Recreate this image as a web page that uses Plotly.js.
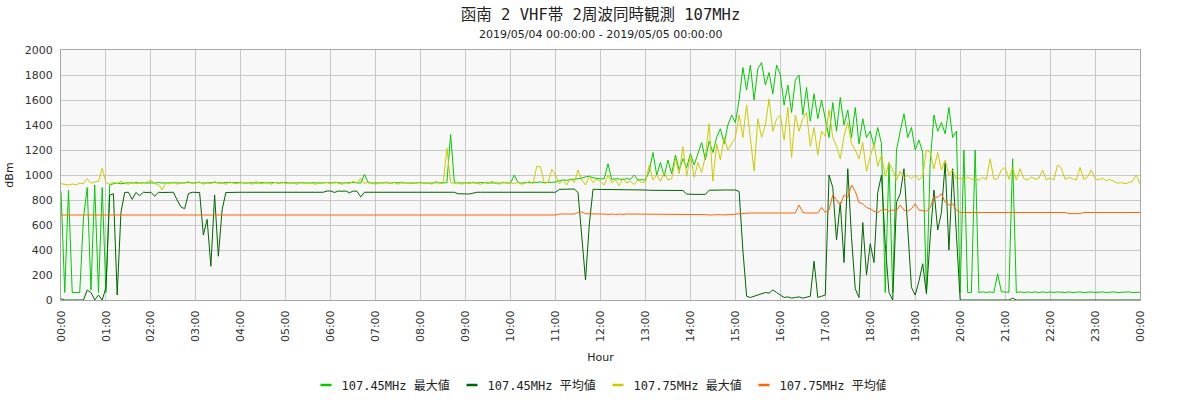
<!DOCTYPE html>
<html>
<head>
<meta charset="utf-8">
<script src="https://cdn.plot.ly/plotly-3.0.1.min.js"></script>
<style>html,body{margin:0;padding:0;background:#fff;}#chart{width:1200px;height:400px;}</style>
</head>
<body>
<div id="chart"></div>
<script>
// ---- Data (5-minute samples, 2019/05/04 00:00 -> 2019/05/05 00:00) ----
const chartTitle = "函南 2 VHF帯 2周波同時観測 107MHz";
const chartSubtitle = "2019/05/04 00:00:00 - 2019/05/05 00:00:00";
const seriesNames = ["107.45MHz 最大値", "107.45MHz 平均値", "107.75MHz 最大値", "107.75MHz 平均値"];
const startTime = "2019-05-04 00:00";
const stepMinutes = 5;

const max10745 = [
 870,60,880,60,60,60,660,900,80,920,60,900,
 60,920,930,935,930,935,938,935,940,935,938,935,
 938,935,940,936,938,935,940,938,935,938,940,936,
 938,940,935,938,936,940,938,935,940,938,936,940,
 938,936,940,938,935,938,940,936,938,940,935,938,
 940,936,938,935,940,938,936,940,938,935,938,940,
 936,938,940,935,938,936,940,938,935,1005,938,936,
 938,940,936,938,935,940,938,936,940,938,935,938,
 936,940,938,935,938,936,940,938,1325,940,936,938,
 940,936,938,935,940,938,936,940,938,935,938,940,
 936,1000,938,935,940,938,936,940,945,938,942,940,
 945,955,960,958,962,965,970,975,985,990,978,970,
 968,972,1090,965,970,968,962,972,965,1000,960,962,
 960,1030,1180,1000,1100,990,1120,1010,1160,1040,1130,1060,
 1170,1080,1170,1260,1120,1270,1180,1300,1370,1250,1400,1480,
 1420,1600,1860,1680,1880,1600,1850,1900,1720,1820,1650,1880,
 1800,1560,1720,1500,1760,1800,1480,1700,1430,1650,1450,1600,
 1450,1300,1580,1350,1620,1400,1520,1300,1540,1250,1450,1300,
 1350,1230,1380,1250,60,1100,60,1200,1350,1490,1300,1380,
 1200,1280,1180,60,1100,1480,1350,1420,1330,1540,1300,1350,
 60,1200,60,60,1200,60,65,60,65,60,210,65,
 65,60,1130,60,65,60,65,60,65,60,65,60,
 65,60,65,62,60,65,60,62,65,60,62,65,
 60,62,65,60,62,65,60,62,60,65,60,62,
 62
];

const avg10745 = [
 10,0,0,0,0,0,0,80,60,0,40,0,
 100,840,850,40,700,860,862,805,860,835,862,860,
 862,830,862,860,862,860,862,800,745,730,850,862,
 862,860,520,645,270,840,350,720,860,862,860,862,
 862,862,862,862,862,862,862,862,862,862,862,862,
 862,862,862,862,862,862,862,862,862,862,862,872,
 872,860,872,870,872,858,872,870,825,862,862,862,
 862,862,862,862,862,862,862,862,862,862,862,862,
 862,862,862,862,862,862,862,862,862,862,850,848,
 848,848,855,862,862,862,862,862,862,862,862,862,
 862,862,862,862,862,862,862,862,862,862,862,862,
 862,885,885,885,888,888,860,540,160,600,885,885,
 885,885,885,885,885,885,885,885,885,885,885,885,
 880,878,878,878,876,876,876,876,876,876,876,848,
 845,845,845,845,845,878,880,880,880,880,880,880,
 880,868,400,30,20,30,40,50,60,55,80,60,
 40,20,25,15,20,25,15,25,30,310,20,30,
 40,1000,900,480,780,300,1050,500,90,20,620,200,
 450,300,860,1000,450,60,0,780,850,1050,550,100,
 40,150,290,50,500,880,560,700,1100,400,1050,500,
 0,0,0,0,0,0,0,0,0,0,0,0,
 0,0,15,0,0,0,0,0,0,0,0,0,
 0,0,0,0,0,0,0,0,0,0,0,0,
 0,0,0,0,0,0,0,0,0,0,0,0,
 0
];

const max10775 = [
 930,925,920,928,922,935,930,970,935,945,950,1055,
 940,925,945,930,950,935,925,945,930,940,935,945,
 960,930,925,880,940,930,945,925,940,935,950,930,
 935,945,925,940,930,950,930,940,925,945,935,930,
 945,930,940,925,950,935,930,945,925,940,935,945,
 930,940,935,925,945,930,940,935,925,945,935,940,
 930,945,935,925,940,930,950,935,975,930,945,935,
 925,940,935,945,930,940,925,945,935,930,940,935,
 945,930,940,925,950,935,930,1215,940,930,945,925,
 940,930,945,935,925,940,930,950,935,925,945,935,
 940,930,945,925,935,950,930,1070,1065,935,940,1045,
 1000,930,960,920,975,940,1040,960,920,990,940,965,
 950,920,1000,940,960,915,975,935,950,925,960,940,
 945,1080,960,1000,950,1020,960,970,1130,1010,1225,990,
 1160,980,1100,1020,1150,1410,950,1250,1120,1300,1200,1250,
 1300,1480,1300,1560,1300,1030,1450,1300,1400,1610,1350,1450,
 1480,1280,1540,1140,1480,1350,1450,1500,1230,1380,1160,1350,
 1310,1520,1300,1230,1130,1310,1420,1250,1200,1130,1260,1030,
 1150,1250,1070,1160,990,1100,1040,960,1030,980,1000,970,
 1000,960,990,1200,1180,1050,1180,1040,1120,1000,1040,960,
 975,960,985,965,970,960,980,965,1130,965,970,1040,
 1060,965,1060,960,1050,970,960,985,965,975,1040,960,
 975,960,1080,1055,965,980,970,960,1060,965,985,1040,
 970,960,975,955,965,950,935,940,930,940,950,1000,
 930
];

const avg10775 = [
 680,680,680,680,680,680,680,680,680,680,680,680,
 680,680,680,680,680,680,680,680,680,680,680,680,
 680,680,680,680,680,680,680,680,680,680,680,680,
 680,680,680,680,680,680,680,680,680,680,680,680,
 680,680,680,680,680,680,680,680,680,680,680,680,
 680,680,680,680,680,680,680,680,680,680,680,680,
 680,680,680,680,680,680,680,680,680,680,680,680,
 680,680,680,680,680,680,680,680,680,680,680,680,
 680,680,680,680,680,680,680,680,680,680,680,680,
 680,680,680,680,680,680,680,680,680,680,680,680,
 680,680,680,680,680,680,680,680,680,680,680,680,
 680,688,688,688,688,688,700,705,690,688,688,688,
 688,688,684,688,684,688,684,688,688,688,688,688,
 683,683,683,683,683,683,683,683,683,683,683,683,
 683,683,683,683,683,680,683,680,683,680,683,683,
 685,688,696,696,696,696,696,696,696,696,696,696,
 696,696,696,696,696,760,700,696,696,696,696,740,
 700,720,840,800,760,840,820,920,870,780,770,740,
 730,710,700,720,725,710,720,715,760,720,710,730,
 770,720,715,710,740,830,820,850,780,760,770,720,
 700,700,700,700,700,700,700,700,700,700,700,700,
 700,700,700,700,700,700,700,700,700,700,700,700,
 700,700,700,700,700,691,691,691,691,700,700,700,
 700,700,700,700,700,700,700,700,700,700,700,700,
 700
];

const seriesColors = ["#00cc00", "#006600", "#cccc00", "#ff6600"];

// ---- Time stamps for the 5-minute sampling grid ----
const baseMs = Date.parse(startTime.replace(" ", "T") + ":00Z");
const times = max10745.map((_, i) => baseMs + i * stepMinutes * 60000);

const allSeries = [max10745, avg10745, max10775, avg10775];
const traces = allSeries.map((vals, k) => ({
  type: "scatter",
  mode: "lines",
  name: seriesNames[k],
  x: times,
  y: vals,
  line: {color: seriesColors[k], width: 1},
  hoverinfo: "skip"
}));

const tickFont = {family: "DejaVu Sans, sans-serif", size: 11, color: "#333"};
const cjkMono = "DejaVu Sans Mono, Noto Sans CJK JP, sans-serif";

const layout = {
  width: 1200, height: 400,
  margin: {l: 61, r: 60, t: 50, b: 100, autoexpand: false},
  paper_bgcolor: "#ffffff",
  plot_bgcolor: "#f8f8f8",
  showlegend: true,
  title: {
    text: chartTitle,
    font: {family: cjkMono, size: 15.5, color: "#222"},
    x: 0.5, xref: "paper", xanchor: "center",
    y: 0.9625, yref: "container", yanchor: "middle"
  },
  annotations: [{
    text: chartSubtitle, showarrow: false,
    xref: "paper", x: 0.5, xanchor: "center",
    yref: "paper", y: 1.06, yanchor: "middle",
    font: {family: "DejaVu Sans, sans-serif", size: 11, color: "#222"}
  }],
  xaxis: {
    type: "date",
    range: [baseMs, baseMs + 24 * 3600000],
    dtick: 3600000,
    tick0: baseMs,
    tickformat: "%H:%M",
    tickangle: -90,
    tickfont: tickFont,
    ticks: "outside", ticklen: 5, tickcolor: "rgba(0,0,0,0)",
    showgrid: true, gridcolor: "#c8c8c8", gridwidth: 1,
    showline: true, linecolor: "#a8a8a8", linewidth: 1, mirror: true,
    zeroline: false, automargin: false,
    title: {text: "Hour", font: {family: "DejaVu Sans, sans-serif", size: 11, color: "#222"}, standoff: 12}
  },
  yaxis: {
    range: [0, 2000],
    dtick: 200,
    tickfont: tickFont,
    ticks: "outside", ticklen: 5, tickcolor: "rgba(0,0,0,0)",
    showgrid: true, gridcolor: "#c8c8c8", gridwidth: 1,
    showline: true, linecolor: "#a8a8a8", linewidth: 1, mirror: true,
    zeroline: false, automargin: false,
    title: {text: "dBm", font: {family: "DejaVu Sans, sans-serif", size: 11, color: "#222"}, standoff: 8}
  },
  legend: {
    orientation: "h",
    x: 0.4935, xanchor: "center",
    y: -0.34, yanchor: "middle",
    font: {family: cjkMono, size: 12, color: "#222"},
    bgcolor: "rgba(0,0,0,0)",
    itemwidth: 30,
    entrywidth: 101,
    entrywidthmode: "pixels",
    traceorder: "normal"
  },
  hovermode: false
};

Plotly.newPlot("chart", traces, layout, {displayModeBar: false, staticPlot: true}).then(gd => {
  gd.querySelectorAll(".legend .traces").forEach(t => {
    t.querySelectorAll(".legendlines path").forEach(p => {
      p.setAttribute("d", "M19,0h11");
      p.style.strokeWidth = "2.5px";
    });
  });
});
</script>
</body>
</html>
